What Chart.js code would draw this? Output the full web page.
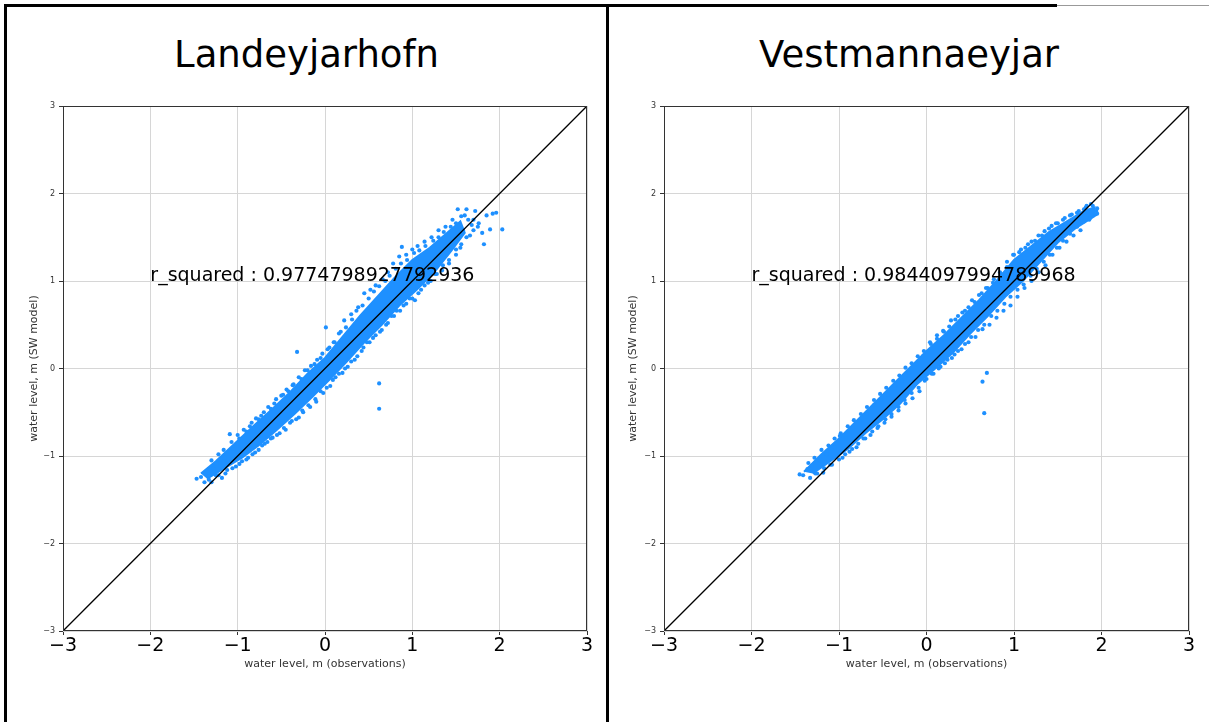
<!DOCTYPE html>
<html>
<head>
<meta charset="utf-8">
<script src="https://cdn.jsdelivr.net/npm/chart.js@4.4.1/dist/chart.umd.min.js"></script>
<style>
  body { margin: 0; width: 1209px; height: 722px; background: #fff; position: relative; overflow: hidden; font-family: "DejaVu Sans", sans-serif; }
  .rule { position: absolute; background: #000; }
  .title { position: absolute; top: 35px; font-size: 37px; line-height: 40px; text-align: center; color: #000; }
  canvas { position: absolute; }
</style>
</head>
<body>
<div class="rule" style="left:4px;top:4px;width:1053px;height:3px"></div>
<div class="rule" style="left:1057px;top:5px;width:152px;height:1px;background:#999"></div>
<div class="rule" style="left:4px;top:4px;width:3px;height:718px"></div>
<div class="rule" style="left:606px;top:4px;width:3px;height:718px"></div>
<div class="title" style="left:7px;width:599px">Landeyjarhofn</div>
<div class="title" style="left:609px;width:600px">Vestmannaeyjar</div>
<canvas id="left" width="599" height="715" style="left:7px;top:7px"></canvas>
<canvas id="right" width="600" height="715" style="left:609px;top:7px"></canvas>
<script>
// axis ticks
const tickValues = [-3, -2, -1, 0, 1, 2, 3];
// 1:1 reference line
const refLineX = [-3, 3];
const refLineY = [-3, 3];

// Landeyjarhofn: dense core of the cloud (upper edge, then lower edge back)
const landCoreUpper = [[-1.42,-1.2],[-1.25,-1.06],[-1.1,-0.92],[-0.95,-0.78],[-0.8,-0.64],[-0.6,-0.46],[-0.4,-0.27],[-0.2,-0.06],[0.0,0.12],[0.2,0.36],[0.4,0.6],[0.6,0.82],[0.8,1.04],[1.0,1.24],[1.2,1.38],[1.4,1.55],[1.55,1.68]];
const landCoreLower = [[1.6,1.55],[1.45,1.35],[1.25,1.1],[1.05,0.9],[0.85,0.72],[0.65,0.5],[0.45,0.3],[0.25,0.08],[0.05,-0.13],[-0.15,-0.33],[-0.35,-0.52],[-0.55,-0.7],[-0.75,-0.87],[-0.95,-1.02],[-1.15,-1.14],[-1.35,-1.26]];
// Landeyjarhofn: points hugging the core edges
const landEdge = [[-1.3,-1.05],[-1.22,-0.98],[-1.16,-0.93],[-1.07,-0.84],[-1.0,-0.76],[-0.93,-0.7],[-0.86,-0.66],[-0.79,-0.57],[-0.73,-0.54],[-0.65,-0.44],[-0.58,-0.4],[-0.5,-0.31],[-0.44,-0.24],[-0.37,-0.19],[-0.3,-0.1],[-0.23,-0.02],[-0.16,0.03],[-0.09,0.1],[-0.03,0.17],[0.05,0.24],[0.11,0.3],[0.18,0.42],[0.24,0.47],[0.31,0.56],[0.36,0.66],[0.43,0.72],[0.5,0.8],[0.56,0.88],[0.62,0.94],[0.69,1.0],[0.74,1.06],[0.81,1.14],[0.87,1.2],[0.94,1.24],[1.02,1.32],[1.08,1.35],[1.15,1.4],[1.24,1.46],[1.3,1.5],[1.36,1.56],[1.44,1.62],[1.5,1.66],[1.56,1.74],[1.64,1.7],[1.68,1.64],
  [-1.38,-1.3],[-1.3,-1.3],[-1.22,-1.22],[-1.14,-1.2],[-1.06,-1.14],[-0.98,-1.09],[-0.9,-1.04],[-0.83,-0.98],[-0.76,-0.93],[-0.69,-0.86],[-0.62,-0.8],[-0.55,-0.76],[-0.47,-0.68],[-0.4,-0.62],[-0.33,-0.58],[-0.26,-0.48],[-0.19,-0.42],[-0.11,-0.35],[-0.05,-0.26],[0.02,-0.22],[0.09,-0.13],[0.16,-0.06],[0.23,0.0],[0.3,0.08],[0.37,0.14],[0.44,0.24],[0.51,0.3],[0.58,0.38],[0.65,0.44],[0.72,0.52],[0.79,0.6],[0.86,0.66],[0.93,0.74],[1.0,0.8],[1.07,0.86],[1.14,0.95],[1.21,1.0],[1.28,1.08],[1.35,1.18],[1.42,1.24],[1.5,1.36],[1.56,1.42],[1.62,1.5],[1.7,1.58],[1.76,1.66]];
// Landeyjarhofn: scattered points further out
const landPoints = [[-1.47,-1.26],[-1.42,-1.24],[-1.37,-1.2],[-1.33,-1.27],[-1.28,-1.14],[-1.25,-1.22],[-1.2,-1.08],[-1.18,-1.25],[-1.15,-1.02],[-1.12,-1.16],[-1.09,-0.75],[-1.05,-0.92],[-1.02,-1.12],[-0.98,-0.8],[-0.95,-1.06],[-0.9,-0.72],[-0.88,-1.02],[-0.84,-0.62],[-0.8,-0.96],[-0.76,-0.58],[-0.72,-0.88],[-0.7,-0.5],[-0.66,-0.84],[-0.62,-0.46],[-0.6,-0.79],[-0.56,-0.35],[-0.52,-0.74],[-0.48,-0.3],[-0.45,-0.7],[-0.42,-0.26],[-0.38,-0.6],[-0.36,-0.18],[-0.32,0.19],[-0.3,-0.56],[-0.27,-0.12],[-0.25,-0.5],[-0.2,-0.02],[-0.17,-0.44],[-0.12,0.05],[-0.1,-0.38],[-0.05,0.12],[-0.02,-0.28],[0.01,0.47],[0.03,0.22],[0.06,-0.2],[0.1,0.3],[0.12,-0.1],[0.16,0.4],[0.2,-0.05],[0.22,0.55],[0.26,0.02],[0.3,0.62],[0.34,0.1],[0.38,0.7],[0.42,0.2],[0.45,0.86],[0.48,0.3],[0.52,0.9],[0.55,0.35],[0.58,0.95],[0.62,-0.17],[0.62,-0.46],[0.63,0.42],[0.66,1.02],[0.7,0.5],[0.72,1.1],[0.76,0.6],[0.78,1.2],[0.82,0.66],[0.85,1.28],[0.88,1.39],[0.9,0.72],[0.93,1.3],[0.97,0.8],[1.0,1.36],[1.03,0.78],[1.06,1.4],[1.1,0.9],[1.14,1.45],[1.18,0.98],[1.22,1.5],[1.26,1.08],[1.3,1.58],[1.34,1.12],[1.38,1.62],[1.42,1.2],[1.46,1.7],[1.5,1.3],[1.52,1.82],[1.55,1.38],[1.58,1.58],[1.6,1.75],[1.62,1.82],[1.66,1.52],[1.7,1.7],[1.72,1.8],[1.75,1.62],[1.8,1.55],[1.82,1.42],[1.85,1.75],[1.89,1.59],[1.92,1.77],[1.96,1.78],[2.03,1.59]];

// Vestmannaeyjar: dense core of the cloud
const vestCoreUpper = [[-1.4,-1.18],[-1.2,-0.98],[-1.0,-0.8],[-0.8,-0.6],[-0.6,-0.4],[-0.4,-0.2],[-0.2,0.0],[0.0,0.2],[0.2,0.38],[0.4,0.58],[0.6,0.78],[0.8,1.0],[1.0,1.24],[1.2,1.4],[1.4,1.56],[1.6,1.68],[1.8,1.8],[1.92,1.84]];
const vestCoreLower = [[1.92,1.74],[1.7,1.6],[1.5,1.44],[1.3,1.22],[1.1,1.0],[0.9,0.82],[0.7,0.6],[0.5,0.4],[0.3,0.18],[0.1,0.0],[-0.1,-0.17],[-0.3,-0.4],[-0.5,-0.58],[-0.7,-0.74],[-0.9,-0.92],[-1.1,-1.06],[-1.3,-1.2]];
// Vestmannaeyjar: points hugging the core edges
const vestEdge = [[-1.35,-1.08],[-1.28,-1.02],[-1.2,-0.93],[-1.12,-0.88],[-1.05,-0.8],[-0.98,-0.74],[-0.9,-0.66],[-0.83,-0.59],[-0.75,-0.52],[-0.68,-0.44],[-0.6,-0.36],[-0.53,-0.29],[-0.46,-0.22],[-0.38,-0.14],[-0.31,-0.08],[-0.24,0.01],[-0.17,0.06],[-0.1,0.14],[-0.03,0.2],[0.05,0.28],[0.12,0.34],[0.19,0.43],[0.26,0.48],[0.33,0.56],[0.41,0.64],[0.48,0.7],[0.55,0.76],[0.63,0.86],[0.7,0.92],[0.77,1.02],[0.85,1.08],[0.92,1.16],[0.99,1.3],[1.06,1.33],[1.13,1.38],[1.2,1.45],[1.28,1.52],[1.35,1.57],[1.43,1.63],[1.5,1.66],[1.58,1.72],[1.66,1.76],[1.74,1.8],[1.82,1.84],[1.88,1.88],
  [-1.33,-1.25],[-1.25,-1.2],[-1.17,-1.14],[-1.08,-1.1],[-1.0,-1.04],[-0.93,-0.98],[-0.85,-0.92],[-0.78,-0.86],[-0.7,-0.8],[-0.62,-0.72],[-0.55,-0.66],[-0.47,-0.58],[-0.4,-0.52],[-0.32,-0.44],[-0.25,-0.36],[-0.17,-0.28],[-0.09,-0.22],[-0.02,-0.14],[0.06,-0.06],[0.14,0.0],[0.21,0.06],[0.29,0.12],[0.36,0.2],[0.44,0.28],[0.51,0.36],[0.59,0.44],[0.66,0.5],[0.74,0.6],[0.81,0.66],[0.89,0.74],[0.96,0.82],[1.04,0.9],[1.11,0.96],[1.19,1.06],[1.26,1.14],[1.34,1.22],[1.41,1.3],[1.49,1.38],[1.56,1.46],[1.64,1.54],[1.72,1.62],[1.8,1.68],[1.87,1.72],[1.94,1.8]];
// Vestmannaeyjar: scattered points further out
const vestPoints = [[-1.45,-1.21],[-1.41,-1.22],[-1.36,-1.15],[-1.31,-1.11],[-1.27,-1.2],[-1.22,-1.05],[-1.18,-1.19],[-1.14,-0.98],[-1.1,-1.1],[-1.05,-0.9],[-0.99,-0.77],[-0.96,-1.02],[-0.92,-0.8],[-0.88,-0.95],[-0.84,-0.68],[-0.8,-0.9],[-0.76,-0.6],[-0.72,-0.8],[-0.68,-0.52],[-0.64,-0.76],[-0.6,-0.42],[-0.56,-0.68],[-0.52,-0.36],[-0.48,-0.62],[-0.44,-0.3],[-0.4,-0.55],[-0.36,-0.2],[-0.32,-0.48],[-0.28,-0.14],[-0.24,-0.4],[-0.2,-0.05],[-0.16,-0.34],[-0.12,0.05],[-0.08,-0.26],[-0.04,0.14],[0.0,-0.12],[0.04,0.3],[0.08,-0.06],[0.12,0.38],[0.16,0.02],[0.2,0.42],[0.24,0.1],[0.28,0.55],[0.32,0.16],[0.36,0.6],[0.4,0.22],[0.44,0.66],[0.48,0.3],[0.52,0.78],[0.56,0.36],[0.6,0.84],[0.64,0.45],[0.64,-0.15],[0.66,-0.51],[0.69,-0.05],[0.68,0.92],[0.72,0.5],[0.76,0.98],[0.8,0.58],[0.84,1.1],[0.88,0.66],[0.92,1.22],[0.96,0.72],[1.0,1.3],[1.04,0.82],[1.08,1.36],[1.12,0.92],[1.16,1.42],[1.2,1.0],[1.24,1.46],[1.28,1.1],[1.32,1.52],[1.36,1.18],[1.4,1.6],[1.44,1.3],[1.48,1.66],[1.52,1.38],[1.56,1.7],[1.6,1.45],[1.64,1.75],[1.68,1.52],[1.72,1.78],[1.76,1.58],[1.8,1.82],[1.83,1.86],[1.86,1.7],[1.9,1.86],[1.93,1.76],[1.95,1.83],[1.95,1.77]];

const rSquared = ['0.9774798927792936', '0.9844097994789968'];
const rTextAt = [-2, 1];

const BLUE = '#1e90ff';
const FONT = 'DejaVu Sans';

const toXY = arr => arr.map(p => ({ x: p[0], y: p[1] }));
const fmtTick = v => (v < 0 ? '\u2212' + Math.abs(v) : String(v));

// frame round the plot + r_squared text
const panelDecor = {
  id: 'panelDecor',
  afterDatasetsDraw(chart, args, opts) {
    const { ctx, chartArea: a, scales: { x, y } } = chart;
    ctx.save();
    ctx.font = '19px "' + FONT + '"';
    ctx.fillStyle = '#000';
    ctx.textBaseline = 'alphabetic';
    ctx.fillText(opts.text, x.getPixelForValue(rTextAt[0]), y.getPixelForValue(rTextAt[1]));
    ctx.strokeStyle = '#333';
    ctx.lineWidth = 1;
    ctx.strokeRect(Math.round(a.left) + 0.5, Math.round(a.top) + 0.5, Math.round(a.right - a.left) - 1, Math.round(a.bottom - a.top) - 1);
    ctx.restore();
  }
};

function buildPanel(id, coreUpper, coreLower, points, rText, yWidth, padRight, yTitlePad) {
  const ctx = document.getElementById(id);
  return new Chart(ctx, {
    type: 'scatter',
    data: {
      datasets: [
        {
          type: 'line',
          data: toXY(refLineX.map((v, i) => [v, refLineY[i]])),
          borderColor: '#000',
          borderWidth: 1.3,
          pointRadius: 0,
          fill: false,
          order: 0
        },
        {
          data: toXY(points),
          backgroundColor: BLUE,
          borderWidth: 0,
          pointRadius: 2.1,
          order: 1
        },
        {
          type: 'line',
          data: toXY(coreUpper.concat(coreLower)),
          borderColor: BLUE,
          borderWidth: 2,
          backgroundColor: BLUE,
          pointRadius: 0,
          tension: 0,
          fill: 'shape',
          order: 2
        }
      ]
    },
    options: {
      responsive: false,
      animation: false,
      events: [],
      layout: { padding: { top: 99, right: padRight, left: 0, bottom: 0 } },
      plugins: {
        legend: { display: false },
        tooltip: { enabled: false },
        panelDecor: { text: 'r_squared : ' + rText }
      },
      scales: {
        x: {
          type: 'linear',
          min: tickValues[0],
          max: tickValues[tickValues.length - 1],
          afterBuildTicks: s => { s.ticks = tickValues.map(v => ({ value: v })); },
          ticks: { font: { family: FONT, size: 19 }, color: '#000', padding: 0, maxRotation: 0, autoSkip: false, callback: fmtTick },
          grid: { color: '#d6d6d6', tickColor: '#333', tickLength: 4 },
          border: { display: false },
          title: { display: true, text: 'water level, m (observations)', font: { family: FONT, size: 11 }, color: '#333', padding: { top: 0, bottom: 51 } },
          afterFit: s => { s.height = 91; }
        },
        y: {
          type: 'linear',
          min: tickValues[0],
          max: tickValues[tickValues.length - 1],
          afterBuildTicks: s => { s.ticks = tickValues.map(v => ({ value: v })); },
          ticks: { font: { family: FONT, size: 8 }, color: '#333', padding: 4, autoSkip: false, callback: fmtTick },
          grid: { color: '#d6d6d6', tickColor: '#333', tickLength: 4 },
          border: { display: false },
          title: { display: true, text: 'water level, m (SW model)', font: { family: FONT, size: 11 }, color: '#333', padding: { top: yTitlePad, bottom: 0 } },
          afterFit: s => { s.width = yWidth; }
        }
      }
    },
    plugins: [panelDecor]
  });
}

buildPanel('left', landCoreUpper, landCoreLower, landEdge.concat(landPoints), rSquared[0], 56, 19, 21);
buildPanel('right', vestCoreUpper, vestCoreLower, vestEdge.concat(vestPoints), rSquared[1], 55, 20, 18);
</script>
</body>
</html>
